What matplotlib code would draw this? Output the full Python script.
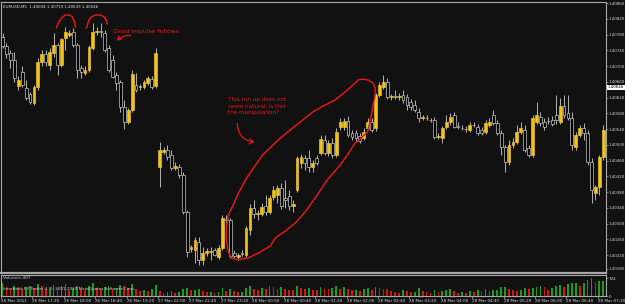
import matplotlib
matplotlib.use('Agg')
import matplotlib.pyplot as plt
import matplotlib.transforms as mtransforms

# EURUSD M5 candles
opens = [1.40774, 1.40751, 1.40733, 1.40716, 1.40650, 1.40685, 1.40644, 1.40629, 1.40606, 1.40647,
         1.40710, 1.40731, 1.40703, 1.40733, 1.40754, 1.40703, 1.40772, 1.40779, 1.40787, 1.40754,
         1.40695, 1.40683, 1.40690, 1.40746, 1.40787, 1.40789, 1.40784, 1.40746, 1.40716, 1.40677,
         1.40660, 1.40596, 1.40558, 1.40589, 1.40652, 1.40647, 1.40647, 1.40657, 1.40667, 1.40650,
         1.40444, 1.40482, 1.40487, 1.40474, 1.40441, 1.40444, 1.40424, 1.40330, 1.40236, 1.40233,
         1.40253, 1.40208, 1.40225, 1.40228, 1.40233, 1.40215, 1.40238, 1.40312, 1.40309, 1.40225,
         1.40215, 1.40225, 1.40220, 1.40284, 1.40340, 1.40324, 1.40324, 1.40345, 1.40330, 1.40368,
         1.40373, 1.40391, 1.40365, 1.40370, 1.40345, 1.40385, 1.40454, 1.40467, 1.40467, 1.40444,
         1.40467, 1.40479, 1.40512, 1.40479, 1.40505, 1.40474, 1.40545, 1.40545, 1.40561, 1.40530,
         1.40530, 1.40523, 1.40517, 1.40543, 1.40558, 1.40543, 1.40627, 1.40647, 1.40660, 1.40622,
         1.40624, 1.40622, 1.40627, 1.40622, 1.40609, 1.40601, 1.40584, 1.40568, 1.40568, 1.40563,
         1.40563, 1.40520, 1.40517, 1.40545, 1.40558, 1.40576, 1.40548, 1.40543, 1.40540, 1.40538,
         1.40550, 1.40545, 1.40538, 1.40533, 1.40550, 1.40576, 1.40556, 1.40530, 1.40495, 1.40456,
         1.40500, 1.40507, 1.40533, 1.40538, 1.40492, 1.40474, 1.40558, 1.40571, 1.40558, 1.40561,
         1.40563, 1.40576, 1.40558, 1.40599, 1.40581, 1.40568, 1.40495, 1.40525, 1.40543, 1.40530,
         1.40456, 1.40378, 1.40393, 1.40469]
highs = [1.40784, 1.40759, 1.40741, 1.40736, 1.40675, 1.40700, 1.40665, 1.40634, 1.40652, 1.40721,
         1.40741, 1.40741, 1.40746, 1.40784, 1.40759, 1.40772, 1.40799, 1.40792, 1.40797, 1.40759,
         1.40703, 1.40700, 1.40754, 1.40810, 1.40799, 1.40810, 1.40792, 1.40754, 1.40728, 1.40685,
         1.40665, 1.40614, 1.40594, 1.40690, 1.40683, 1.40655, 1.40665, 1.40675, 1.40675, 1.40746,
         1.40507, 1.40495, 1.40500, 1.40487, 1.40456, 1.40451, 1.40431, 1.40335, 1.40246, 1.40266,
         1.40266, 1.40241, 1.40238, 1.40241, 1.40238, 1.40246, 1.40322, 1.40322, 1.40314, 1.40233,
         1.40225, 1.40233, 1.40294, 1.40350, 1.40360, 1.40335, 1.40352, 1.40373, 1.40373, 1.40396,
         1.40398, 1.40403, 1.40411, 1.40385, 1.40360, 1.40472, 1.40477, 1.40474, 1.40487, 1.40462,
         1.40474, 1.40525, 1.40525, 1.40512, 1.40517, 1.40543, 1.40568, 1.40568, 1.40573, 1.40538,
         1.40538, 1.40530, 1.40543, 1.40568, 1.40568, 1.40632, 1.40660, 1.40677, 1.40670, 1.40629,
         1.40639, 1.40632, 1.40639, 1.40629, 1.40616, 1.40614, 1.40594, 1.40576, 1.40576, 1.40568,
         1.40571, 1.40530, 1.40548, 1.40576, 1.40581, 1.40584, 1.40558, 1.40550, 1.40548, 1.40558,
         1.40558, 1.40553, 1.40545, 1.40563, 1.40568, 1.40589, 1.40563, 1.40538, 1.40500, 1.40512,
         1.40517, 1.40550, 1.40558, 1.40550, 1.40500, 1.40576, 1.40609, 1.40584, 1.40568, 1.40571,
         1.40573, 1.40627, 1.40619, 1.40627, 1.40627, 1.40584, 1.40533, 1.40550, 1.40556, 1.40538,
         1.40467, 1.40398, 1.40474, 1.40550]
lows = [1.40746, 1.40721, 1.40695, 1.40660, 1.40639, 1.40647, 1.40614, 1.40604, 1.40601, 1.40639,
        1.40700, 1.40700, 1.40690, 1.40723, 1.40677, 1.40698, 1.40741, 1.40774, 1.40749, 1.40670,
        1.40670, 1.40677, 1.40685, 1.40741, 1.40779, 1.40774, 1.40736, 1.40685, 1.40670, 1.40639,
        1.40584, 1.40540, 1.40553, 1.40584, 1.40634, 1.40639, 1.40642, 1.40652, 1.40642, 1.40644,
        1.40393, 1.40477, 1.40462, 1.40436, 1.40436, 1.40416, 1.40324, 1.40215, 1.40228, 1.40200,
        1.40195, 1.40195, 1.40218, 1.40208, 1.40218, 1.40210, 1.40233, 1.40302, 1.40213, 1.40213,
        1.40208, 1.40218, 1.40215, 1.40271, 1.40314, 1.40309, 1.40319, 1.40322, 1.40324, 1.40360,
        1.40352, 1.40337, 1.40340, 1.40335, 1.40330, 1.40380, 1.40441, 1.40436, 1.40431, 1.40431,
        1.40449, 1.40474, 1.40474, 1.40472, 1.40467, 1.40469, 1.40538, 1.40538, 1.40520, 1.40512,
        1.40510, 1.40505, 1.40512, 1.40538, 1.40533, 1.40535, 1.40622, 1.40642, 1.40616, 1.40614,
        1.40616, 1.40614, 1.40606, 1.40589, 1.40589, 1.40584, 1.40558, 1.40563, 1.40563, 1.40558,
        1.40515, 1.40515, 1.40505, 1.40540, 1.40550, 1.40543, 1.40540, 1.40538, 1.40533, 1.40533,
        1.40545, 1.40525, 1.40525, 1.40528, 1.40545, 1.40550, 1.40525, 1.40474, 1.40431, 1.40449,
        1.40492, 1.40502, 1.40528, 1.40482, 1.40469, 1.40469, 1.40553, 1.40548, 1.40538, 1.40553,
        1.40548, 1.40553, 1.40553, 1.40568, 1.40563, 1.40487, 1.40487, 1.40520, 1.40512, 1.40449,
        1.40352, 1.40360, 1.40373, 1.40462]
closes = [1.40751, 1.40731, 1.40716, 1.40670, 1.40665, 1.40652, 1.40619, 1.40609, 1.40647, 1.40710,
          1.40731, 1.40710, 1.40736, 1.40754, 1.40703, 1.40769, 1.40787, 1.40784, 1.40754, 1.40690,
          1.40685, 1.40690, 1.40749, 1.40787, 1.40789, 1.40787, 1.40741, 1.40690, 1.40672, 1.40657,
          1.40596, 1.40558, 1.40589, 1.40680, 1.40639, 1.40650, 1.40660, 1.40670, 1.40647, 1.40733,
          1.40487, 1.40487, 1.40469, 1.40441, 1.40446, 1.40424, 1.40330, 1.40228, 1.40241, 1.40258,
          1.40208, 1.40225, 1.40230, 1.40230, 1.40220, 1.40238, 1.40314, 1.40309, 1.40218, 1.40218,
          1.40220, 1.40223, 1.40289, 1.40340, 1.40324, 1.40327, 1.40342, 1.40330, 1.40365, 1.40385,
          1.40391, 1.40345, 1.40360, 1.40345, 1.40350, 1.40467, 1.40469, 1.40454, 1.40444, 1.40454,
          1.40454, 1.40515, 1.40479, 1.40505, 1.40474, 1.40533, 1.40558, 1.40561, 1.40525, 1.40520,
          1.40517, 1.40510, 1.40533, 1.40558, 1.40538, 1.40627, 1.40652, 1.40660, 1.40622, 1.40624,
          1.40622, 1.40623, 1.40614, 1.40601, 1.40596, 1.40589, 1.40568, 1.40571, 1.40569, 1.40564,
          1.40520, 1.40523, 1.40543, 1.40558, 1.40571, 1.40545, 1.40545, 1.40544, 1.40541, 1.40550,
          1.40551, 1.40530, 1.40530, 1.40556, 1.40558, 1.40556, 1.40530, 1.40495, 1.40456, 1.40500,
          1.40507, 1.40533, 1.40543, 1.40487, 1.40474, 1.40568, 1.40576, 1.40556, 1.40545, 1.40560,
          1.40553, 1.40563, 1.40599, 1.40576, 1.40568, 1.40500, 1.40525, 1.40543, 1.40530, 1.40456,
          1.40385, 1.40393, 1.40469, 1.40538]
volumes = [520, 380, 300, 410, 350, 280, 360, 420, 330, 470, 390, 300, 350, 430, 310, 400, 480, 260, 330, 410,
           290, 240, 400, 510, 320, 280, 350, 390, 300, 340, 460, 410, 320, 490, 270, 200, 240, 210, 280, 440,
           200, 130, 170, 220, 120, 170, 270, 330, 230, 260, 290, 200, 150, 170, 140, 180, 320, 190, 270, 210,
           160, 180, 330, 420, 300, 260, 340, 280, 390, 360, 300, 380, 290, 260, 240, 410, 330, 280, 310, 260,
           230, 380, 300, 270, 320, 400, 290, 350, 280, 240, 260, 220, 280, 310, 250, 380, 330, 300, 270, 210,
           160, 140, 240, 200, 160, 170, 320, 200, 160, 120, 240, 160, 200, 240, 280, 200, 120, 160, 120, 200,
           150, 240, 200, 280, 200, 230, 250, 350, 380, 280, 240, 200, 240, 310, 280, 320, 350, 400, 350, 240,
           310, 400, 440, 350, 470, 510, 515, 400, 540, 640, 724, 580, 610, 620]

time_labels = ['26 Mar 2011', '26 Mar 17:20', '26 Mar 18:00', '26 Mar 18:40', '26 Mar 19:20',
               '27 Mar 22:00', '27 Mar 22:40', '27 Mar 23:20', '28 Mar 00:00', '28 Mar 00:40',
               '28 Mar 01:20', '28 Mar 02:00', '28 Mar 02:40', '28 Mar 03:20', '28 Mar 04:00',
               '28 Mar 04:40', '28 Mar 05:20', '28 Mar 06:00', '28 Mar 06:40', '28 Mar 07:20']
price_ticks = [1.40860, 1.40820, 1.40780, 1.40740, 1.40700, 1.40660, 1.40620, 1.40580, 1.40540,
               1.40500, 1.40460, 1.40420, 1.40380, 1.40340, 1.40300, 1.40260, 1.40220, 1.40185]
last_price = 1.40646

BG = '#111111'
GRID = '#a8a8a8'
YELLOW = '#f2c21b'
RED = '#e01818'
W, H = 625, 304

def box(l, t, r, b):
    return [l / W, 1 - b / H, (r - l) / W, (b - t) / H]

fig = plt.figure(figsize=(6.25, 3.04), dpi=100)
fig.patch.set_facecolor(BG)
ax = fig.add_axes(box(1, 2, 606, 273))
vax = fig.add_axes(box(1, 275, 606, 296), sharex=ax)
for a in (ax, vax):
    a.set_facecolor(BG)
    for s in a.spines.values():
        s.set_color(GRID)
        s.set_linewidth(0.8)
ax.spines['bottom'].set_linewidth(1.6)

n = len(opens)
idx = list(range(n))

# candles
ax.vlines(idx, lows, highs, color='#b4b4b4', linewidth=0.7, zorder=2)
bottoms = [min(o, c) for o, c in zip(opens, closes)]
heights = [max(abs(c - o), 0.000004) for o, c in zip(opens, closes)]
face = [YELLOW if c > o else 'black' for o, c in zip(opens, closes)]
edge = ['#e8c030' if c > o else '#c8c8c8' for o, c in zip(opens, closes)]
ax.bar(idx, heights, bottom=bottoms, width=0.72, color=face, edgecolor=edge, linewidth=0.5, zorder=3)

ax.set_xlim(-0.254, 153.69)
ax.set_ylim(1.401746, 1.408629)
ax.yaxis.tick_right()
ax.set_yticks(price_ticks)
ax.set_yticklabels([f'{p:.5f}' for p in price_ticks])
ax.tick_params(axis='y', colors=GRID, labelcolor='#d8d8d8', labelsize=2.9, length=1.2, width=0.5, pad=0.6)
ax.tick_params(axis='x', bottom=False, labelbottom=False)

trans = mtransforms.blended_transform_factory(ax.transAxes, ax.transData)
ax.text(1.003, last_price, f'{last_price:.5f}', transform=trans, fontsize=2.9, color='black',
        va='center', ha='left', bbox=dict(boxstyle='square,pad=0.2', fc='white', ec='none'), zorder=6)

ax.text(0.004, 0.988, 'EURUSD,M5  1.40694 1.40719 1.40639 1.40646', transform=ax.transAxes,
        fontsize=2.9, color='#e0e0e0', va='top', ha='left')

# volumes
vcol = ['#1e9a1e' if i == 0 or volumes[i] > volumes[i - 1] else '#d01818' for i in idx]
vax.bar(idx, volumes, width=0.45, color=vcol, zorder=2)
vax.set_ylim(0, 845)
vax.yaxis.tick_right()
vax.set_yticks([0, 724])
vax.set_yticklabels(['0', '724'])
vax.tick_params(axis='y', colors=GRID, labelcolor='#d8d8d8', labelsize=2.9, length=1.2, width=0.5, pad=0.6)
vax.set_xticks([8 * k - 0.4 for k in range(len(time_labels))])
vax.set_xticklabels(time_labels, ha='left')
vax.tick_params(axis='x', colors=GRID, labelcolor='#d8d8d8', labelsize=3.0, length=2, width=0.5, pad=0.5)
vax.text(0.004, 0.86, 'Volumes 407', transform=vax.transAxes, fontsize=3.1, color='#d0d0d0', va='center')
vax.text(0.004, 0.34, 'Interbank FX Trader 4, \u00a9 2001-2010 MetaQuotes Software Corp.',
         transform=vax.transAxes, fontsize=3.0, color='#d0d0d0', va='center')

# hand-drawn red annotations
arch1 = [(13.7, 1.40797), (14.3, 1.40812), (15.0, 1.40822), (16.0, 1.40830), (17.0, 1.40830),
         (17.8, 1.40825), (18.3, 1.40812), (18.6, 1.40799)]
arch2 = [(21.4, 1.40797), (21.9, 1.40815), (22.6, 1.40825), (23.7, 1.40830), (24.9, 1.40830),
         (25.9, 1.40825), (26.5, 1.40815), (26.7, 1.40807)]
loop = [(58.5, 1.40342), (60.1, 1.40378), (62.3, 1.40418), (66.2, 1.40474), (70.7, 1.40517),
        (75.8, 1.40558), (79.1, 1.40584), (81.7, 1.40599), (84.7, 1.40614), (87.8, 1.40639),
        (90.6, 1.40665), (91.6, 1.40667), (93.1, 1.40665), (94.4, 1.40657), (94.9, 1.40644),
        (94.9, 1.40627), (94.4, 1.40601), (93.9, 1.40576), (93.4, 1.40550), (92.9, 1.40533),
        (91.6, 1.40520), (89.8, 1.40505), (87.8, 1.40474), (86.0, 1.40449), (82.7, 1.40411),
        (79.6, 1.40365), (77.1, 1.40330), (74.6, 1.40302), (72.0, 1.40281), (69.5, 1.40264),
        (68.2, 1.40243), (65.1, 1.40225), (62.6, 1.40213), (60.1, 1.40208), (58.3, 1.40213),
        (57.5, 1.40228), (57.0, 1.40258), (57.0, 1.40289), (57.5, 1.40322), (58.5, 1.40342)]
for path in (arch1, arch2, loop):
    ax.plot([p[0] for p in path], [p[1] for p in path], color=RED, linewidth=1.1, zorder=5,
            solid_capstyle='round', solid_joinstyle='round')

ax.annotate('', xy=(28.7, 1.40759), xytext=(33.3, 1.40777),
            arrowprops=dict(arrowstyle='->,head_length=0.25,head_width=0.15', color=RED, lw=0.9,
                            connectionstyle='arc3,rad=0.3'), zorder=5)
ax.text(28.0, 1.40789, 'Good impulse follows', color=RED, fontsize=4.4, va='center', ha='left', zorder=5)

ax.text(57.5, 1.40622, 'This run up does not\nseem natural, is this\nthe manipulation?', color=RED,
        fontsize=4.1, va='top', ha='left', linespacing=1.45, zorder=5)
ax.annotate('', xy=(64.9, 1.40507), xytext=(59.8, 1.40561),
            arrowprops=dict(arrowstyle='->,head_length=0.3,head_width=0.18', color=RED, lw=0.9,
                            connectionstyle='arc3,rad=0.5'), zorder=5)

fig.savefig('out.png', dpi=100, facecolor=BG)
